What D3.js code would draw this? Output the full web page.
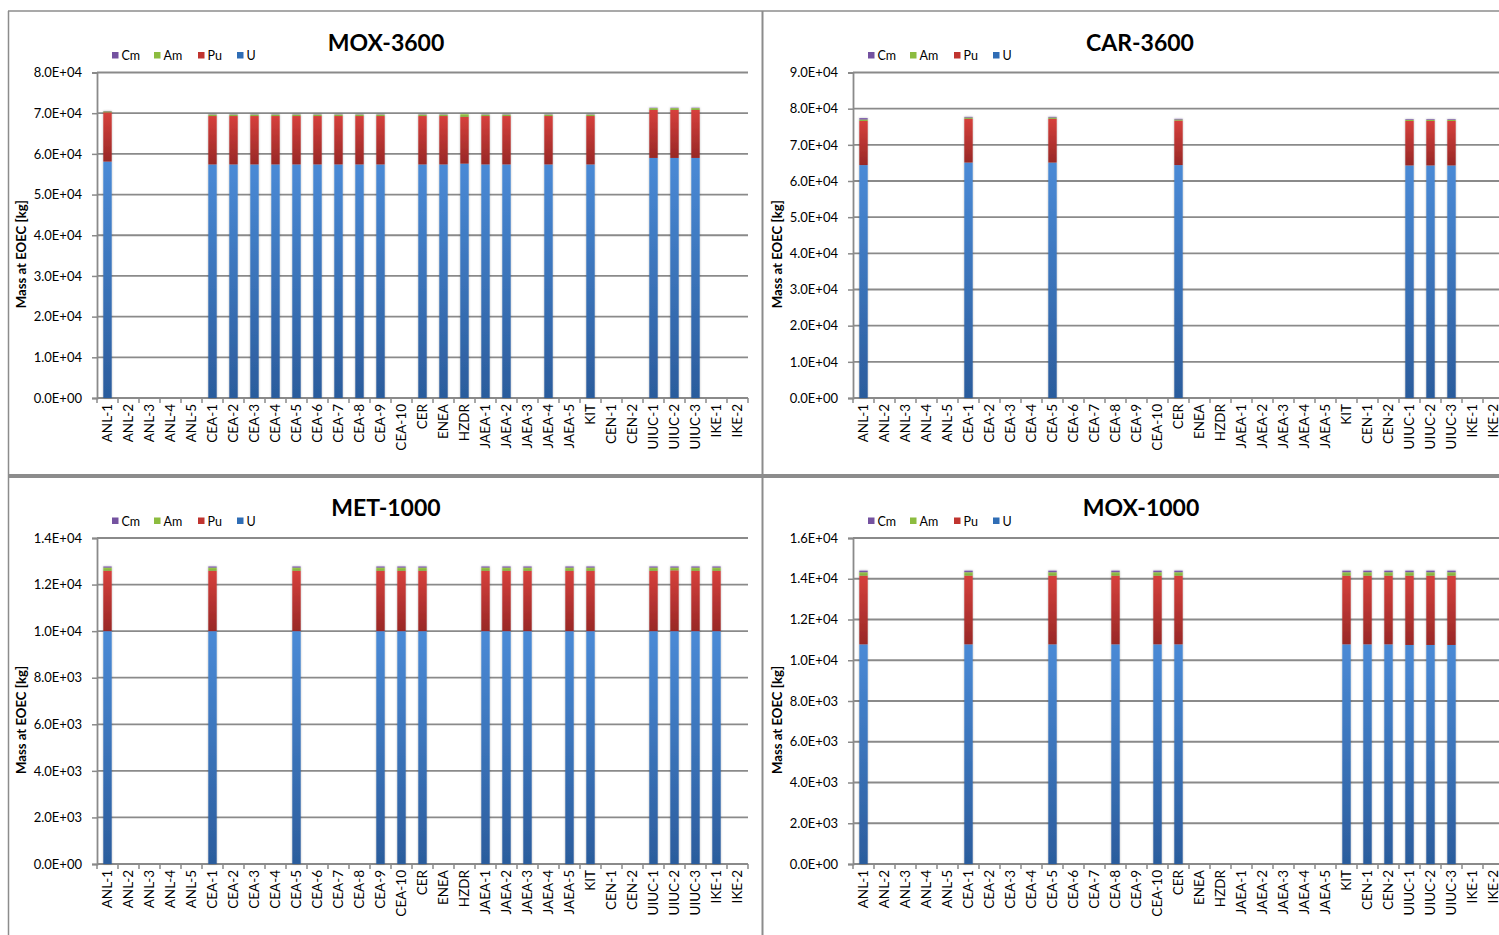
<!DOCTYPE html>
<html>
<head>
<meta charset="utf-8">
<script src="https://cdn.jsdelivr.net/npm/d3@7"></script>
<style>
  html, body { margin: 0; padding: 0; background: #fff; }
  svg { display: block; font-family: Lato, "Open Sans", sans-serif; }
</style>
</head>
<body>
<svg id="chart" width="1499" height="935"></svg>
<script>
// Category axis shared by all four panels
const categories = ["ANL-1","ANL-2","ANL-3","ANL-4","ANL-5",
  "CEA-1","CEA-2","CEA-3","CEA-4","CEA-5","CEA-6","CEA-7","CEA-8","CEA-9","CEA-10",
  "CER","ENEA","HZDR","JAEA-1","JAEA-2","JAEA-3","JAEA-4","JAEA-5","KIT",
  "CEN-1","CEN-2","UIUC-1","UIUC-2","UIUC-3","IKE-1","IKE-2"];

// Stack order (bottom to top) and legend order
const nuclides = ["U", "Pu", "Am", "Cm"];
const legendOrder = ["Cm", "Am", "Pu", "U"];

// MOX-3600: mass at EOEC [kg]
const mox3600Cats = ["ANL-1","CEA-1","CEA-2","CEA-3","CEA-4","CEA-5","CEA-6","CEA-7","CEA-8","CEA-9",
  "CER","ENEA","HZDR","JAEA-1","JAEA-2","JAEA-4","KIT","UIUC-1","UIUC-2","UIUC-3"];
const mox3600U  = [58100,57400,57400,57400,57400,57400,57400,57400,57400,57400,57400,57400,57600,57400,57400,57400,57400,59000,59000,59000];
const mox3600Pu = [12100,11900,11900,11900,11900,11900,11900,11900,11900,11900,11900,11900,11500,11900,11900,11900,11900,11800,11800,11800];
const mox3600Am = [  250,  350,  350,  350,  350,  350,  350,  350,  350,  350,  350,  350,  650,  350,  350,  350,  350,  450,  450,  450];
const mox3600Cm = [  100,   80,   80,   80,   80,   80,   80,   80,   80,   80,   80,   80,    0,   80,   80,   80,   80,  100,  100,  100];

// CAR-3600
const car3600Cats = ["ANL-1","CEA-1","CEA-5","CER","UIUC-1","UIUC-2","UIUC-3"];
const car3600U  = [64400,65100,65100,64400,64300,64300,64300];
const car3600Pu = [12200,12100,12100,12300,12300,12300,12300];
const car3600Am = [  400,  350,  350,  300,  300,  300,  300];
const car3600Cm = [  400,  200,  200,  200,  200,  200,  200];

// MET-1000
const met1000Cats = ["ANL-1","CEA-1","CEA-5","CEA-9","CEA-10","CER","JAEA-1","JAEA-2","JAEA-3","JAEA-5",
  "KIT","UIUC-1","UIUC-2","UIUC-3","IKE-1"];
const met1000U  = [10000,10000,10000,10000,10000,10000,10000,10000,10000,10000,10000,10000,10000,10000,10000];
const met1000Pu = [ 2590, 2590, 2590, 2590, 2590, 2590, 2590, 2590, 2590, 2590, 2590, 2590, 2610, 2590, 2590];
const met1000Am = [  140,  140,  140,  140,  140,  140,  140,  140,  140,  140,  140,  140,  120,  140,  140];
const met1000Cm = [   50,   50,   50,   50,   50,   50,   50,   50,   50,   50,   50,   50,   50,   50,   50];

// MOX-1000
const mox1000Cats = ["ANL-1","CEA-1","CEA-5","CEA-8","CEA-10","CER","KIT","CEN-1","CEN-2","UIUC-1","UIUC-2","UIUC-3"];
const mox1000U  = [10780,10780,10780,10780,10780,10780,10780,10780,10780,10750,10750,10750];
const mox1000Pu = [ 3370, 3370, 3370, 3370, 3370, 3370, 3370, 3370, 3370, 3400, 3400, 3400];
const mox1000Am = [  170,  170,  170,  170,  170,  170,  170,  170,  170,  170,  170,  170];
const mox1000Cm = [   80,   80,   80,   80,   80,   80,   80,   80,   80,   80,   80,   80];

// Y axis domains and tick steps
const mox3600Ticks = [0, 80000, 10000];
const car3600Ticks = [0, 90000, 10000];
const met1000Ticks = [0, 14000, 2000];
const mox1000Ticks = [0, 16000, 2000];

const panels = [
  { title: "MOX-3600", cats: mox3600Cats, vals: [mox3600U, mox3600Pu, mox3600Am, mox3600Cm], ticks: mox3600Ticks, left: 97,  top: 72.5, bottom: 398, titleX: 386 },
  { title: "CAR-3600", cats: car3600Cats, vals: [car3600U, car3600Pu, car3600Am, car3600Cm], ticks: car3600Ticks, left: 853, top: 72.5, bottom: 398, titleX: 1140 },
  { title: "MET-1000", cats: met1000Cats, vals: [met1000U, met1000Pu, met1000Am, met1000Cm], ticks: met1000Ticks, left: 97,  top: 538,  bottom: 864, titleX: 386 },
  { title: "MOX-1000", cats: mox1000Cats, vals: [mox1000U, mox1000Pu, mox1000Am, mox1000Cm], ticks: mox1000Ticks, left: 853, top: 538,  bottom: 864, titleX: 1141 }
];

const colors = {
  U:  { top: "#4a8ad6", bottom: "#2b5c9c", key: "#2f6db5" },
  Pu: { top: "#d6403c", bottom: "#982826", key: "#c0342f" },
  Am: { top: "#9ccc4c", bottom: "#7ea83a", key: "#8cbc3f" },
  Cm: { top: "#8a66b8", bottom: "#6a4a94", key: "#7452a0" }
};

const svg = d3.select("#chart");
const defs = svg.append("defs");

nuclides.forEach(n => {
  const g = defs.append("linearGradient").attr("id", "grad-" + n)
    .attr("x1", 0).attr("y1", 0).attr("x2", 0).attr("y2", 1);
  g.append("stop").attr("offset", "0%").attr("stop-color", colors[n].top);
  g.append("stop").attr("offset", "100%").attr("stop-color", colors[n].bottom);
});

const shadow = defs.append("filter").attr("id", "soft")
  .attr("x", "-60%").attr("y", "-10%").attr("width", "220%").attr("height", "120%");
shadow.append("feDropShadow").attr("dx", 0).attr("dy", 0).attr("stdDeviation", 1.3)
  .attr("flood-color", "#000").attr("flood-opacity", 0.28);

const gridColor = "#8a8a8a";
const fmtExp = d => {
  if (d === 0) return "0.0E+00";
  const e = Math.floor(Math.log10(d) + 1e-9);
  const m = d / Math.pow(10, e);
  return m.toFixed(1) + "E+" + String(e).padStart(2, "0");
};

panels.forEach(p => {
  const g = svg.append("g");
  const bandW = 21;
  const xb = d3.scaleBand().domain(categories).range([p.left, p.left + bandW * categories.length]);
  const y = d3.scaleLinear().domain([p.ticks[0], p.ticks[1]]).range([p.bottom, p.top]);
  const tickVals = d3.range(p.ticks[0], p.ticks[1] + p.ticks[2] / 2, p.ticks[2]);
  const right = p.left < 500 ? 748 : 1499;

  // horizontal gridlines
  g.append("g").selectAll("line").data(tickVals).join("line")
    .attr("x1", p.left).attr("x2", right)
    .attr("y1", d => y(d)).attr("y2", d => y(d))
    .attr("stroke", gridColor).attr("stroke-width", 1.8);

  // y axis
  const yAxis = d3.axisLeft(y).tickValues(tickVals).tickFormat(fmtExp).tickSize(5).tickPadding(10);
  const ya = g.append("g").attr("transform", `translate(${p.left},0)`).call(yAxis);
  ya.select(".domain").attr("stroke", gridColor).attr("stroke-width", 1.8);
  ya.selectAll(".tick line").attr("stroke", gridColor).attr("stroke-width", 1.5);
  ya.selectAll(".tick text").attr("font-size", 13).attr("fill", "#000").attr("font-family", "Lato");

  // x axis: tick marks at band boundaries
  const bounds = categories.map(c => xb(c)).concat([p.left + bandW * categories.length]);
  g.append("g").selectAll("line").data(bounds.filter(b => b <= 1499)).join("line")
    .attr("x1", d => d).attr("x2", d => d)
    .attr("y1", p.bottom).attr("y2", p.bottom + 5)
    .attr("stroke", gridColor).attr("stroke-width", 1.5);

  g.append("g").selectAll("text").data(categories).join("text")
    .attr("transform", c => `translate(${xb(c) + xb.bandwidth() / 2},${p.bottom + 6}) rotate(-90)`)
    .attr("text-anchor", "end").attr("dy", "0.35em")
    .attr("font-size", 13.5).attr("fill", "#000")
    .text(c => c);

  // stacked bars
  const rows = p.cats.map((c, i) => {
    const r = { cat: c };
    nuclides.forEach((n, k) => r[n] = p.vals[k][i]);
    return r;
  });
  const stacked = d3.stack().keys(nuclides)(rows);
  const barW = 8.4;
  const bars = g.append("g").attr("filter", "url(#soft)");
  stacked.forEach(layer => {
    bars.append("g").selectAll("rect").data(layer).join("rect")
      .attr("x", d => xb(d.data.cat) + xb.bandwidth() / 2 - barW / 2)
      .attr("width", barW)
      .attr("y", d => y(d[1]))
      .attr("height", d => Math.max(0, y(d[0]) - y(d[1])))
      .attr("fill", `url(#grad-${layer.key})`);
  });

  // y axis title
  const midY = (p.top + p.bottom) / 2 + 19;
  g.append("text")
    .attr("transform", `translate(${p.left - 71},${midY}) rotate(-90)`)
    .attr("text-anchor", "middle").attr("font-size", 13.2).attr("font-weight", "bold")
    .text("Mass at EOEC [kg]");

  // chart title
  g.append("text").attr("x", p.titleX).attr("y", p.top - 22)
    .attr("text-anchor", "middle").attr("font-size", 23).attr("font-weight", "bold")
    .text(p.title);

  // legend
  const legOff = [15, 57, 101, 140];
  const lg = g.append("g");
  legendOrder.forEach((n, i) => {
    const lx = p.left + legOff[i];
    lg.append("rect").attr("x", lx).attr("y", p.top - 20.5).attr("width", 6.5).attr("height", 6.5).attr("fill", colors[n].key);
    lg.append("text").attr("x", lx + 9.5).attr("y", p.top - 12.5).attr("font-size", 12.5).text(n);
  });
});

// panel frames
const frame = svg.append("g").attr("stroke", "#8c8c8c");
frame.append("line").attr("x1", 8.5).attr("x2", 8.5).attr("y1", 11).attr("y2", 935).attr("stroke-width", 1.5);
frame.append("line").attr("x1", 8).attr("x2", 1499).attr("y1", 11).attr("y2", 11).attr("stroke-width", 1.5);
frame.append("line").attr("x1", 762.5).attr("x2", 762.5).attr("y1", 11).attr("y2", 935).attr("stroke-width", 2);
frame.append("line").attr("x1", 8).attr("x2", 1499).attr("y1", 476).attr("y2", 476).attr("stroke-width", 4);
</script>
</body>
</html>
